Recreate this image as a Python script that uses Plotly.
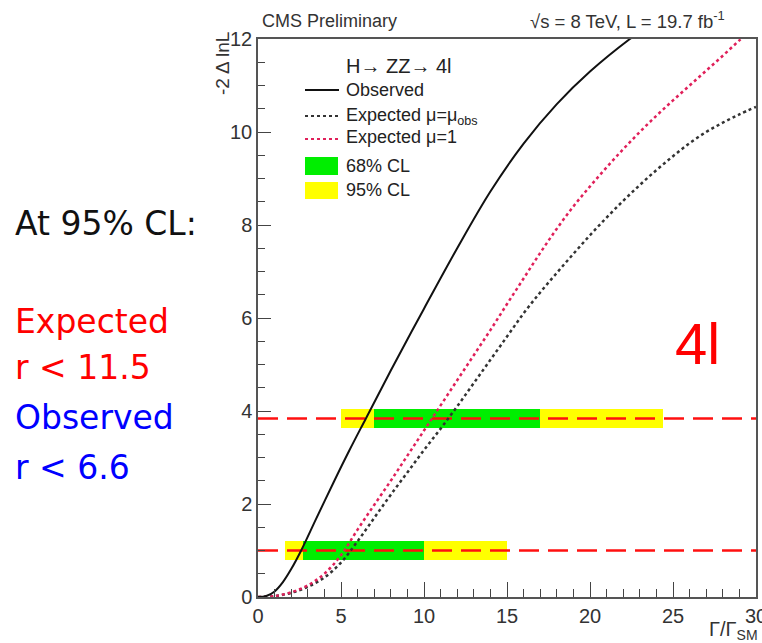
import plotly.graph_objects as go

# ---------------- data ----------------
obs_x = [0, 0.5, 1, 1.5, 2, 2.6, 3.5, 4.6, 5.5, 6.5, 8, 10, 12, 14, 16, 18, 20, 22.4, 24]
obs_y = [0, 0.02, 0.12, 0.32, 0.6, 1.0, 1.68, 2.5, 3.15, 3.84, 4.87, 6.2, 7.5, 8.72, 9.75, 10.6, 11.3, 12.0, 12.4]

exp1_x = list(range(0, 31))
exp1_y = [0, 0.02, 0.1, 0.25, 0.5, 0.9, 1.45, 1.98, 2.5, 3.04, 3.58, 4.12, 4.66, 5.2, 5.74, 6.3,
          6.85, 7.4, 7.92, 8.4, 8.83, 9.24, 9.63, 10.0, 10.35, 10.68, 11.0, 11.32, 11.64, 11.97, 12.28]

expobs_x = list(range(0, 31))
expobs_y = [0, 0.02, 0.09, 0.22, 0.42, 0.74, 1.2, 1.7, 2.2, 2.68, 3.16, 3.62, 4.1, 4.6, 5.1, 5.6,
            6.1, 6.55, 6.97, 7.38, 7.78, 8.16, 8.52, 8.86, 9.18, 9.48, 9.76, 10.0, 10.2, 10.38, 10.54]

cl_levels = [1.0, 3.84]          # -2 Delta lnL thresholds (68%, 95%)
band68_lo = [2.7, 7.0]
band68_hi = [10.0, 17.0]
band95_lo = [1.6, 5.0]
band95_hi = [15.0, 24.4]
band_halfheight = 0.21

x_ticks = [0, 5, 10, 15, 20, 25, 30]
y_ticks = [0, 2, 4, 6, 8, 10, 12]

# ---------------- geometry helpers (pixels -> paper) ----------------
L, R, T, B = 258, 756, 39, 597
def px(x):
    return (x - L) / (R - L)
def py(y):
    return (B - y) / (B - T)

fig = go.Figure()

# bands
fig.add_trace(go.Bar(orientation='h', y=cl_levels,
                     x=[h - l for l, h in zip(band95_lo, band95_hi)], base=band95_lo,
                     width=2 * band_halfheight, marker=dict(color='#ffff00', line=dict(width=0)),
                     showlegend=False, hoverinfo='skip'))
fig.add_trace(go.Bar(orientation='h', y=cl_levels,
                     x=[h - l for l, h in zip(band68_lo, band68_hi)], base=band68_lo,
                     width=2 * band_halfheight, marker=dict(color='#00ee00', line=dict(width=0)),
                     showlegend=False, hoverinfo='skip'))

# dashed red threshold lines
for lv in cl_levels:
    fig.add_trace(go.Scatter(x=[0, 30], y=[lv, lv], mode='lines',
                             line=dict(color='#ff1010', width=2.5, dash='20px,9px'),
                             showlegend=False, hoverinfo='skip'))

# curves
fig.add_trace(go.Scatter(x=expobs_x, y=expobs_y, mode='lines',
                         line=dict(color='#333333', width=2.5, dash='dot', shape='spline', smoothing=1),
                         showlegend=False))
fig.add_trace(go.Scatter(x=exp1_x, y=exp1_y, mode='lines',
                         line=dict(color='#e0205a', width=2.5, dash='dot', shape='spline', smoothing=1),
                         showlegend=False))
fig.add_trace(go.Scatter(x=obs_x, y=obs_y, mode='lines',
                         line=dict(color='#111111', width=2, shape='spline', smoothing=1),
                         showlegend=False))

axis_font = dict(family='Liberation Sans, Arial, sans-serif', size=20, color='#333333')
fig.update_xaxes(range=[0, 30], tickvals=x_ticks, ticks='inside', ticklen=15, tickwidth=1.2,
                 tickcolor='#444', showline=True, linecolor='#555', linewidth=1.5, mirror=True,
                 showgrid=False, zeroline=False, tickfont=axis_font, automargin=False,
                 ticklabeloverflow='allow',
                 minor=dict(dtick=1, ticks='inside', ticklen=8, tickcolor='#444', tickwidth=1.2, showgrid=False))
fig.update_yaxes(range=[0, 12], tickvals=y_ticks, ticks='inside', ticklen=13, tickwidth=1.2,
                 tickcolor='#444', showline=True, linecolor='#555', linewidth=1.5, mirror=True,
                 showgrid=False, zeroline=False, tickfont=axis_font, automargin=False,
                 ticklabeloverflow='allow',
                 minor=dict(dtick=0.5, ticks='inside', ticklen=7, tickcolor='#444', tickwidth=1.2, showgrid=False))

ann = []
def A(text, x, y, size, color='#222', family='Liberation Sans, Arial, sans-serif', xanchor='left', yanchor='middle', angle=0):
    ann.append(dict(text=text, x=px(x), y=py(y), xref='paper', yref='paper', showarrow=False,
                    xanchor=xanchor, yanchor=yanchor, textangle=angle,
                    font=dict(size=size, color=color, family=family)))

# header
A('CMS Preliminary', 260, 21, 18, color='#333')
A('√s = 8 TeV, L = 19.7 fb<sup>-1</sup>', 727, 20, 18.5, color='#333', xanchor='right')
# axis titles
A('-2 Δ lnL', 222, 64, 19, color='#333', xanchor='center', angle=-90)
A('Γ/Γ<sub>SM</sub>', 760, 645, 20, color='#333', xanchor='right', yanchor='bottom')

# legend
A('H→ ZZ→ 4l', 344, 66, 20, color='#222')
A('Observed', 344, 90, 18, color='#222')
A('Expected μ=μ<sub>obs</sub>', 344, 116, 18, color='#222')
A('Expected μ=1', 344, 137, 18, color='#222')
A('68% CL', 344, 166, 18, color='#222')
A('95% CL', 344, 190, 18, color='#222')

# left slide text
sl = 'DejaVu Sans, sans-serif'
A('At 95% CL:', 13, 224, 33, color='#111', family=sl)
A('Expected', 13, 321, 33, color='#ff0000', family=sl)
A('r < 11.5', 13, 367, 33, color='#ff0000', family=sl)
A('Observed', 13, 417, 33, color='#0000ff', family=sl)
A('r < 6.6', 13, 467, 33, color='#0000ff', family=sl)

# 4l label
A('4l', 697, 343, 58, color='#ff0000', xanchor='center')

shapes = []
def line_sample(y, color, dash):
    shapes.append(dict(type='line', xref='paper', yref='paper', x0=px(305), x1=px(339), y0=py(y), y1=py(y),
                       line=dict(color=color, width=2, dash=dash)))
line_sample(90, '#111', 'solid')
line_sample(116, '#333', 'dot')
line_sample(139, '#e0205a', 'dot')
shapes.append(dict(type='rect', xref='paper', yref='paper', x0=px(305), x1=px(338), y0=py(175), y1=py(157),
                   fillcolor='#00ee00', line=dict(width=0)))
shapes.append(dict(type='rect', xref='paper', yref='paper', x0=px(305), x1=px(338), y0=py(199), y1=py(182),
                   fillcolor='#ffff00', line=dict(width=0)))

fig.update_layout(width=762, height=643, margin=dict(l=L, r=762 - R, t=T, b=643 - B, autoexpand=False),
                  plot_bgcolor='white', paper_bgcolor='white', barmode='overlay',
                  annotations=ann, shapes=shapes, showlegend=False, bargap=0)

fig.write_html('out.html', config={'displayModeBar': False},
               post_script="document.body.style.margin='0';document.body.style.overflow='hidden';")
